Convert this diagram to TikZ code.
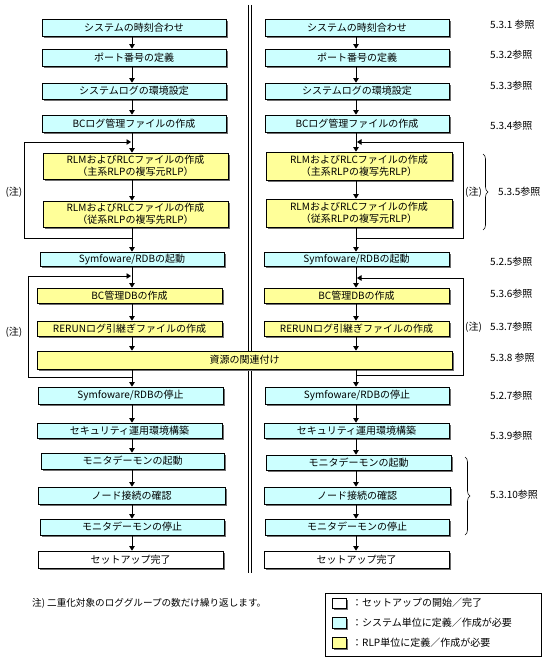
\documentclass[tikz,border=0pt]{standalone}
\usepackage{fontspec}
\setmainfont{Noto Sans CJK JP}
\usetikzlibrary{arrows.meta,decorations.pathreplacing}
\definecolor{cy}{HTML}{CCFFFF}
\definecolor{ye}{HTML}{FFFF99}
\definecolor{sh}{HTML}{6E6E6E}
\newcommand\flowbox[7]{%
  \fill[sh] ({#2+2},{#3+2}) rectangle ({#4+2},{#5+2});
  \node[boxbase,fill=#6,minimum width={#4-#2},minimum height={#5-#3}] (#1) at ({(#2+#4)/2},{(#3+#5)/2}) {#7};
}
\begin{document}
\begin{tikzpicture}[x={(1pt,0)},y={(0,-1pt)},
  boxbase/.style={draw=black,line width=0.7pt,inner sep=0pt,align=center,font=\fontsize{10}{12}\selectfont},
  arr/.style={-{Triangle[width=5.5pt,length=4.5pt]},line width=0.7pt},
  lbl/.style={anchor=west,inner sep=0pt,font=\fontsize{10}{12}\selectfont},
  note/.style={inner sep=0pt,font=\fontsize{10}{12}\selectfont},
  bracestyle/.style={decorate,decoration={brace,amplitude=5pt},line width=0.6pt}]
\useasboundingbox (0,0) rectangle (551,661);
% double separator
\draw[line width=0.8pt] (248,5) -- (248,573);
\draw[line width=0.8pt] (251,5) -- (251,573);
% left column
\flowbox{l1}{42}{19}{226}{36}{cy}{システムの時刻合わせ}
\flowbox{l2}{42}{49}{226}{66}{cy}{ポート番号の定義}
\flowbox{l3}{42}{83}{226}{99}{cy}{システムログの環境設定}
\flowbox{l4}{42}{115}{226}{132}{cy}{BCログ管理ファイルの作成}
\flowbox{l5}{43}{153}{228}{179}{ye}{RLMおよびRLCファイルの作成\\（主系RLPの複写元RLP）}
\flowbox{l6}{43}{201}{228}{227}{ye}{RLMおよびRLCファイルの作成\\（従系RLPの複写先RLP）}
\flowbox{l7}{40}{252}{224}{266}{cy}{Symfoware/RDBの起動}
\flowbox{l8}{37}{288}{222}{303}{ye}{BC管理DBの作成}
\flowbox{l9}{37}{321}{222}{336}{ye}{RERUNログ引継ぎファイルの作成}
\flowbox{m10}{37}{351}{452}{369}{ye}{資源の関連付け}
\flowbox{l11}{38}{387}{223}{404}{cy}{Symfoware/RDBの停止}
\flowbox{l12}{37}{423}{222}{438}{cy}{セキュリティ運用環境構築}
\flowbox{l13}{41}{453}{224}{469}{cy}{モニタデーモンの起動}
\flowbox{l14}{38}{487}{225}{504}{cy}{ノード接続の確認}
\flowbox{l15}{40}{519}{224}{535}{cy}{モニタデーモンの停止}
\flowbox{l16}{38}{551}{223}{568}{white}{セットアップ完了}
% right column
\flowbox{r1}{265}{19}{449}{36}{cy}{システムの時刻合わせ}
\flowbox{r2}{265}{49}{449}{66}{cy}{ポート番号の定義}
\flowbox{r3}{265}{83}{449}{99}{cy}{システムログの環境設定}
\flowbox{r4}{265}{115}{449}{132}{cy}{BCログ管理ファイルの作成}
\flowbox{r5}{266}{152}{452}{180}{ye}{RLMおよびRLCファイルの作成\\（主系RLPの複写先RLP）}
\flowbox{r6}{266}{199}{452}{227}{ye}{RLMおよびRLCファイルの作成\\（従系RLPの複写元RLP）}
\flowbox{r7}{264}{252}{449}{266}{cy}{Symfoware/RDBの起動}
\flowbox{r8}{264}{288}{449}{303}{ye}{BC管理DBの作成}
\flowbox{r9}{264}{321}{449}{336}{ye}{RERUNログ引継ぎファイルの作成}
\flowbox{r11}{265}{387}{449}{404}{cy}{Symfoware/RDBの停止}
\flowbox{r12}{264}{423}{449}{438}{cy}{セキュリティ運用環境構築}
\flowbox{r13}{266}{455}{451}{470}{cy}{モニタデーモンの起動}
\flowbox{r14}{264}{487}{450}{504}{cy}{ノード接続の確認}
\flowbox{r15}{265}{519}{449}{535}{cy}{モニタデーモンの停止}
\flowbox{r16}{264}{551}{449}{568}{white}{セットアップ完了}
% arrow axes
\coordinate (L) at (132,0);
\coordinate (R) at (356,0);
\foreach \a/\b in {l1/l2,l2/l3,l3/l4,l4/l5,l5/l6,l6/l7,l7/l8,l8/l9,l9/m10,l11/l12,l12/l13,l13/l14,l14/l15,l15/l16}
  \draw[arr] (\a.south -| L) -- (\b.north -| L);
\draw[arr] (m10.south -| L) -- (l11.north -| L);
\foreach \a/\b in {r1/r2,r2/r3,r3/r4,r4/r5,r5/r6,r6/r7,r7/r8,r8/r9,r9/m10,r11/r12,r12/r13,r13/r14,r14/r15,r15/r16}
  \draw[arr] (\a.south -| R) -- (\b.north -| R);
\draw[arr] (m10.south -| R) -- (r11.north -| R);
% loops left
\coordinate (lja) at (132,238); \coordinate (lka) at (24,142); \coordinate (lea) at (131,142);
\draw[arr] (lja) -- (lja -| lka) -- (lka) -- (lea);
\coordinate (ljb) at (132,377); \coordinate (lkb) at (28,276); \coordinate (leb) at (131,276);
\draw[arr] (ljb) -- (ljb -| lkb) -- (lkb) -- (leb);
% loops right
\coordinate (rja) at (356,238); \coordinate (rka) at (463,142); \coordinate (rea) at (357,142);
\draw[arr] (rja) -- (rja -| rka) -- (rka) -- (rea);
\coordinate (rjb) at (356,375); \coordinate (rkb) at (463,278); \coordinate (reb) at (357,278);
\draw[arr] (rjb) -- (rjb -| rkb) -- (rkb) -- (reb);
% (注) labels
\node[note] (nla) at (14,192) {(注)};
\node[note] (nlb) at (14,332) {(注)};
\node[note,anchor=west] (nra) at (465,192) {(注)};
\node[note,anchor=west] (nrb) at (465,327) {(注)};
% braces
\coordinate (bat) at (483,154); \coordinate (bab) at (483,230);
\draw[bracestyle] (bat) -- (bab);
\coordinate (bbt) at (465,457); \coordinate (bbb) at (465,535);
\draw[bracestyle] (bbt) -- (bbb);
% references
\node[lbl] (s1) at (490,25) {5.3.1 参照};
\node[lbl] (s2) at (490,55) {5.3.2参照};
\node[lbl] (s3) at (490,86) {5.3.3参照};
\node[lbl] (s4) at (490,126) {5.3.4参照};
\node[lbl] (s5) at (498,192) {5.3.5参照};
\node[lbl] (s6) at (490,262) {5.2.5参照};
\node[lbl] (s7) at (490,294) {5.3.6参照};
\node[lbl] (s8) at (490,327) {5.3.7参照};
\node[lbl] (s9) at (490,358) {5.3.8 参照};
\node[lbl] (s10) at (490,396) {5.2.7参照};
\node[lbl] (s11) at (490,436) {5.3.9参照};
\node[lbl] (s12) at (490,495) {5.3.10参照};
% footnote
\node[lbl,font=\fontsize{9.6}{12}\selectfont] (fn) at (32,603) {注) 二重化対象のロググループの数だけ繰り返します。};
% legend
\node[draw=black,line width=0.7pt,minimum width=216,minimum height=63,inner sep=0pt] (leg) at (433,624.5) {};
\flowbox{lg1}{332}{598}{346}{608}{white}{}
\flowbox{lg2}{332}{617}{346}{628}{cy}{}
\flowbox{lg3}{332}{637}{346}{648}{ye}{}
\node[lbl] (lt1) at (352,603) {：セットアップの開始／完了};
\node[lbl] (lt2) at (352,623) {：システム単位に定義／作成が必要};
\node[lbl] (lt3) at (352,643) {：RLP単位に定義／作成が必要};
\end{tikzpicture}
\end{document}
